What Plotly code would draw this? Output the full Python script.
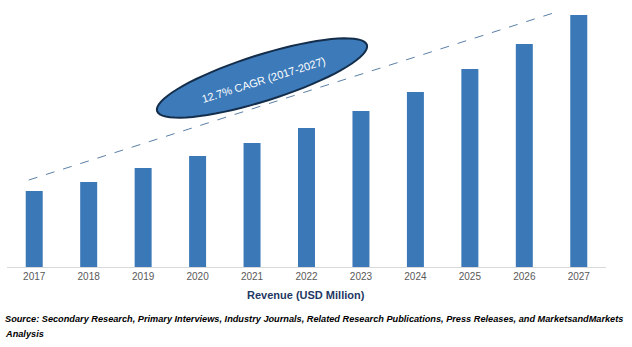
import math
import plotly.graph_objects as go

years = ["2017", "2018", "2019", "2020", "2021", "2022", "2023", "2024", "2025", "2026", "2027"]
revenue = [76, 85, 99, 111, 124, 139, 156, 175, 198, 223, 252]
cagr_label = "12.7% CAGR (2017-2027)"
x_title = "Revenue (USD Million)"
source_line1 = ("Source: Secondary Research, Primary Interviews, Industry Journals, Related Research "
                "Publications, Press Releases, and MarketsandMarkets")
source_line2 = "Analysis"

W, H = 632, 347
ML, MR, MT, MB = 7, 26, 5, 80
PW, PH = W - ML - MR, H - MT - MB

def to_paper(px, py):
    return (px - ML) / PW, (H - MB - py) / PH

fig = go.Figure()
fig.add_trace(go.Bar(x=years, y=revenue, marker=dict(color="#3B78B7", line=dict(width=0)),
                     hoverinfo="x+y"))

# trend line (dashed)
fig.add_shape(type="line", xref="x", yref="y", x0=-0.1, x1=9.65, y0=87, y1=256, layer="below",
              line=dict(color="#5B7FA6", width=1, dash="dash"))

# ellipse callout
cx, cy, a, b, ang = 262, 78, 110, 23, math.radians(-17.5)
pts = []
for i in range(73):
    t = 2 * math.pi * i / 72
    ex = a * math.cos(t)
    ey = b * math.sin(t)
    px = cx + ex * math.cos(ang) - ey * math.sin(ang)
    py = cy + ex * math.sin(ang) + ey * math.cos(ang)
    pts.append(to_paper(px, py))
path = "M " + " L ".join(f"{x:.5f},{y:.5f}" for x, y in pts) + " Z"
fig.add_shape(type="path", xref="paper", yref="paper", path=path, layer="below",
              fillcolor="#3C7AB9", line=dict(color="#132D4B", width=2))

tx, ty = to_paper(263, 80)
fig.add_annotation(x=tx, y=ty, xref="paper", yref="paper", xanchor="center", yanchor="middle",
                   text=cagr_label, showarrow=False, textangle=-17.5,
                   font=dict(family="Liberation Sans, Arial", size=11, color="#FFFFFF"))

fig.add_annotation(x=(306 - ML) / PW, y=0, xref="paper", yref="paper", xanchor="center",
                   yanchor="middle", yshift=-28,
                   text=f"<b>{x_title}</b>", showarrow=False,
                   font=dict(family="Liberation Sans, Arial", size=11, color="#1F3864"))

fig.add_annotation(x=(3 - ML) / PW, y=0, xref="paper", yref="paper", xanchor="left", yanchor="middle",
                   yshift=-52, align="left",
                   text=f"<b><i>{source_line1}</i></b>", showarrow=False,
                   font=dict(family="Liberation Sans, Arial", size=9.2, color="black"))
fig.add_annotation(x=(3 - ML) / PW, y=0, xref="paper", yref="paper", xanchor="left", yanchor="middle",
                   yshift=-67, align="left",
                   text=f"<b><i>{source_line2}</i></b>", showarrow=False,
                   font=dict(family="Liberation Sans, Arial", size=9.2, color="black"))

fig.update_layout(
    width=W, height=H, margin=dict(l=ML, r=MR, t=MT, b=MB),
    paper_bgcolor="white", plot_bgcolor="white", showlegend=False, bargap=0.688,
    xaxis=dict(showline=True, linecolor="#D9D9D9", linewidth=1, ticks="", showgrid=False,
               tickfont=dict(family="Liberation Sans, Arial", size=10, color="#595959")),
    yaxis=dict(range=[0, PH], visible=False, showgrid=False, zeroline=False),
)

fig.write_html("out.html")
